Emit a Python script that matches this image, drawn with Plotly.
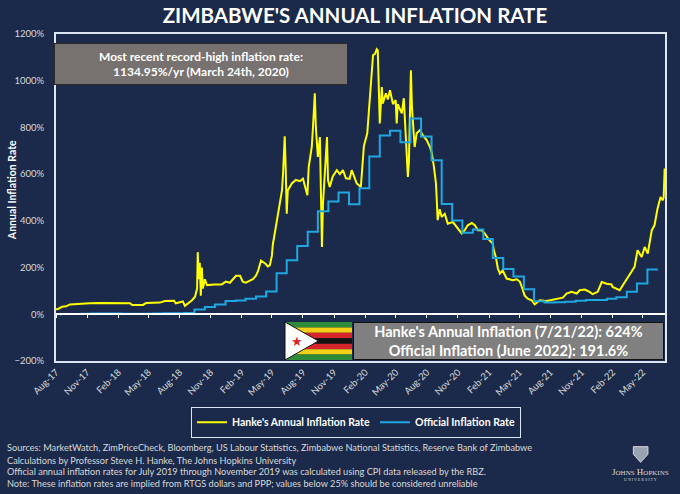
import plotly.graph_objects as go
import pandas as pd

# Hanke's annual inflation rate (%)
hanke_dates = [
    "2017-08-01", "2017-08-07", "2017-08-19", "2017-08-31", "2017-09-11", "2017-09-26",
    "2017-10-11", "2017-11-09", "2017-12-09", "2018-01-08", "2018-02-06", "2018-03-08",
    "2018-03-14", "2018-04-15", "2018-04-24", "2018-06-04", "2018-06-19", "2018-07-16",
    "2018-07-21", "2018-08-02", "2018-08-11", "2018-08-17", "2018-08-26", "2018-09-07",
    "2018-09-16", "2018-09-22", "2018-09-24", "2018-09-27", "2018-09-30", "2018-10-03",
    "2018-10-06", "2018-10-09", "2018-10-15", "2018-10-21", "2018-11-14", "2018-12-04",
    "2018-12-16", "2018-12-28", "2019-01-06", "2019-01-15", "2019-01-27", "2019-02-04",
    "2019-02-13", "2019-02-22", "2019-03-06", "2019-03-15", "2019-03-21", "2019-03-30",
    "2019-04-04", "2019-04-13", "2019-04-19", "2019-04-25", "2019-05-01", "2019-05-04",
    "2019-05-10", "2019-05-16", "2019-05-25", "2019-05-31", "2019-06-03", "2019-06-08",
    "2019-06-11", "2019-06-14", "2019-06-17", "2019-06-29", "2019-07-11", "2019-07-23",
    "2019-08-01", "2019-08-10", "2019-08-14", "2019-08-18", "2019-08-27", "2019-08-30",
    "2019-09-05", "2019-09-08", "2019-09-14", "2019-09-20", "2019-09-23", "2019-09-26",
    "2019-09-29", "2019-10-05", "2019-10-11", "2019-10-14", "2019-10-19", "2019-10-28",
    "2019-11-09", "2019-11-18", "2019-11-27", "2019-12-06", "2019-12-17", "2019-12-23",
    "2020-01-01", "2020-01-07", "2020-01-19", "2020-01-22", "2020-01-28", "2020-02-07",
    "2020-02-13", "2020-02-21", "2020-02-24", "2020-03-01", "2020-03-06", "2020-03-09",
    "2020-03-15", "2020-03-21", "2020-03-24", "2020-04-02", "2020-04-08", "2020-04-14",
    "2020-04-23", "2020-05-01", "2020-05-04", "2020-05-07", "2020-05-13", "2020-05-19",
    "2020-05-25", "2020-05-31", "2020-06-03", "2020-06-06", "2020-06-09", "2020-06-15",
    "2020-06-18", "2020-06-21", "2020-06-26", "2020-07-02", "2020-07-11", "2020-07-20",
    "2020-08-01", "2020-08-10", "2020-08-16", "2020-08-22", "2020-08-28", "2020-08-30",
    "2020-09-02", "2020-09-08", "2020-09-14", "2020-09-23", "2020-10-02", "2020-10-17",
    "2020-10-31", "2020-11-12", "2020-11-21", "2020-11-30", "2020-12-12", "2020-12-21",
    "2020-12-30", "2021-01-10", "2021-01-19", "2021-01-28", "2021-02-03", "2021-02-12",
    "2021-02-15", "2021-02-21", "2021-02-27", "2021-03-05", "2021-03-13", "2021-03-25",
    "2021-04-03", "2021-04-12", "2021-04-24", "2021-05-03", "2021-05-09", "2021-05-17",
    "2021-05-26", "2021-06-07", "2021-06-16", "2021-06-22", "2021-07-01", "2021-07-21",
    "2021-08-08", "2021-08-29", "2021-09-07", "2021-09-18", "2021-10-03", "2021-10-18",
    "2021-10-27", "2021-11-11", "2021-11-25", "2021-12-04", "2021-12-19", "2021-12-31",
    "2022-01-15", "2022-01-29", "2022-02-01", "2022-02-22", "2022-03-03", "2022-03-15",
    "2022-03-24", "2022-04-07", "2022-04-16", "2022-04-28", "2022-05-07", "2022-05-16",
    "2022-05-28", "2022-06-05", "2022-06-14", "2022-06-23", "2022-06-29", "2022-07-02",
    "2022-07-05",
]
hanke_values = [
    22, 23, 32, 34, 42, 44,
    45, 47, 48, 48, 48, 47,
    40, 40, 48, 50, 57, 58,
    47, 52, 55, 36, 45, 60,
    75, 110, 266, 150, 220, 80,
    200, 110, 150, 125, 128, 128,
    140, 135, 150, 165, 165, 140,
    135, 140, 150, 165, 185, 230,
    225, 215, 205, 210, 250, 300,
    350, 403, 488, 531, 600, 762,
    620, 431, 530, 560, 575, 570,
    580, 530, 510, 631, 717, 788,
    946, 800, 674, 759, 430, 288,
    470, 620, 759, 574, 545, 590,
    617, 600, 617, 582, 580, 617,
    580, 560, 545, 600, 720, 775,
    888, 1016, 1109, 1115, 1135, 1130,
    817, 973, 903, 946, 920, 959,
    900, 917, 817, 900, 880, 860,
    925, 745, 700, 588, 650, 1045,
    888, 831, 716, 775, 788, 767,
    745, 717, 689, 631, 560, 502,
    403, 450, 417, 430, 388, 395,
    367, 346, 360, 381, 391, 381,
    360, 360, 346, 324, 315, 303,
    274, 245, 196, 174, 188, 153,
    150, 146, 150, 140, 117, 81,
    67, 60, 43, 50, 60, 57,
    63, 67, 71, 89, 96, 89,
    103, 106, 96, 86, 96, 138,
    131, 128, 117, 103, 124, 146,
    167, 203, 274, 245, 288, 260,
    360, 381, 453, 502, 488, 500,
    624,
]

# Official monthly inflation (%), each month drawn from mid previous month
official_months = [
    "2017-08", "2017-09", "2017-10", "2017-11", "2017-12",
    "2018-01", "2018-02", "2018-03", "2018-04", "2018-05", "2018-06",
    "2018-07", "2018-08", "2018-09", "2018-10", "2018-11", "2018-12",
    "2019-01", "2019-02", "2019-03", "2019-04", "2019-05", "2019-06",
    "2019-07", "2019-08", "2019-09", "2019-10", "2019-11", "2019-12",
    "2020-01", "2020-02", "2020-03", "2020-04", "2020-05", "2020-06",
    "2020-07", "2020-08", "2020-09", "2020-10", "2020-11", "2020-12",
    "2021-01", "2021-02", "2021-03", "2021-04", "2021-05", "2021-06",
    "2021-07", "2021-08", "2021-09", "2021-10", "2021-11", "2021-12",
    "2022-01", "2022-02", "2022-03", "2022-04", "2022-05", "2022-06",
]
official_values = [
    0.1, 0.8, 1.3, 2.3, 3.5,
    3.5, 3.0, 2.7, 2.7, 2.7, 2.9,
    4.3, 4.8, 5.4, 20.9, 31.0, 42.1,
    56.9, 59.4, 66.8, 75.9, 97.9, 175.7,
    231, 292, 353, 441, 483, 521,
    471, 540, 676, 765, 786, 737,
    838, 761, 659, 472, 402, 349,
    363, 322, 241, 194, 162, 107,
    56, 50, 52, 54, 58, 61,
    61, 66, 73, 96, 132, 191.6,
]

title_text = "ZIMBABWE'S ANNUAL INFLATION RATE"
footnotes = [
    "Sources: MarketWatch, ZimPriceCheck, Bloomberg, US Labour Statistics, Zimbabwe National Statistics, Reserve Bank of Zimbabwe",
    "Calculations by Professor Steve H. Hanke, The Johns Hopkins University",
    "Official annual inflation rates for July 2019 through November 2019 was calculated using CPI data released by the RBZ.",
    "Note: These inflation rates are implied from RTGS dollars and PPP; values below 25% should be considered unreliable",
]

navy = "#1b2a4a"
frame = "#dce6f2"
font_family = "Lato, 'Open Sans', sans-serif"

# step start = 15th of the previous month, hold last value to mid-month
step_x = list(pd.to_datetime(official_months) - pd.DateOffset(days=17))
step_x.append(pd.to_datetime(official_months[-1]) + pd.DateOffset(days=14))
step_y = official_values + [official_values[-1]]

fig = go.Figure()
fig.add_trace(go.Scatter(x=hanke_dates, y=hanke_values, mode="lines",
                         name="Hanke's Annual Inflation Rate",
                         line=dict(color="#ffff00", width=2)))
fig.add_trace(go.Scatter(x=step_x, y=step_y, mode="lines", xaxis="x2",
                         name="Official Inflation Rate",
                         line=dict(color="#1ea7e1", width=2, shape="hv")))

x_range = ["2017-08-01", "2022-07-06"]
zero_pos = 200 / 1400

fig.update_layout(
    width=680, height=494,
    margin=dict(l=56, r=15, t=34, b=133),
    paper_bgcolor=navy, plot_bgcolor=navy,
    font=dict(family=font_family, color="#d9d9d9", size=10),
    title=dict(text=title_text, x=0.522, xanchor="center", y=0.967, yanchor="middle",
               font=dict(size=20.5, color="white", weight="bold", family=font_family)),
    xaxis=dict(type="date", range=x_range, tick0="2017-08-01", dtick="M3",
               tickformat="%b-%y", tickangle=-45, showgrid=False, zeroline=False,
               showline=True, linecolor=frame, linewidth=2, mirror=True,
               ticks="", automargin=False, tickfont=dict(size=9.5, color="#d9d9d9")),
    xaxis2=dict(type="date", matches="x", overlaying="x", anchor="free",
                position=zero_pos, tick0="2017-08-01", dtick="M3",
                showticklabels=False, showgrid=False, zeroline=False,
                showline=True, linecolor="white", linewidth=2, automargin=False,
                ticks="outside", ticklen=3, tickcolor="white", tickwidth=1),
    yaxis=dict(range=[-200, 1200], dtick=200, ticksuffix="%", showgrid=False,
               zeroline=False, showline=True, linecolor=frame, linewidth=2,
               mirror=True, ticks="", ticklabelstandoff=8, automargin=False,
               tickfont=dict(size=9.5, color="#d9d9d9")),
    legend=dict(orientation="h", x=0.4926, y=-0.187, xanchor="center", yanchor="middle",
                bgcolor=navy, bordercolor=frame, borderwidth=1, itemwidth=30,
                font=dict(size=10.5, color="white", weight="bold"),
                tracegroupgap=0),
    showlegend=True,
)

# y axis title, placed by hand so it sits where the reference has it
fig.add_annotation(xref="paper", yref="paper", x=-0.072, y=0.523,
                   xanchor="center", yanchor="middle", textangle=-90,
                   text="<b>Annual Inflation Rate</b>", showarrow=False,
                   font=dict(size=10.5, color="white", family=font_family))

# record-high note
fig.add_annotation(xref="paper", yref="paper", x=0.238, y=0.908,
                   xanchor="center", yanchor="middle",
                   text="<b>Most recent record-high inflation rate:<br>1134.95%/yr (March 24th, 2020)</b>",
                   showarrow=False, align="center", width=292, height=40,
                   bgcolor="#77726f", bordercolor="#2b2b2b", borderwidth=1, borderpad=0,
                   font=dict(size=12, color="white", family=font_family))

# latest values box
fig.add_annotation(xref="paper", yref="paper", x=0.7425, y=0.061,
                   xanchor="center", yanchor="middle",
                   text="<b>Hanke's Annual Inflation (7/21/22): 624%<br>Official Inflation (June 2022): 191.6%</b>",
                   showarrow=False, align="center", width=309, height=36,
                   bgcolor="#808080", bordercolor="#111111", borderwidth=1, borderpad=0,
                   font=dict(size=14.5, color="white", family=font_family))

# flag of Zimbabwe next to the box
fx0, fx1 = (285 - 56) / 609, (352 - 56) / 609
fy0, fy1 = (361 - 360) / 327, (361 - 322) / 327
stripe_colors = ["#2e8b3a", "#f4d116", "#d4262b", "#111111", "#d4262b", "#f4d116", "#2e8b3a"]
h = (fy1 - fy0) / len(stripe_colors)
for i, c in enumerate(stripe_colors):
    fig.add_shape(type="rect", xref="paper", yref="paper", layer="above",
                  x0=fx0, x1=fx1, y0=fy1 - (i + 1) * h, y1=fy1 - i * h,
                  fillcolor=c, line=dict(width=0))
tri_x = fx0 + (fx1 - fx0) * 0.5
fig.add_shape(type="path", xref="paper", yref="paper", layer="above",
              path=f"M {fx0} {fy0} L {fx0} {fy1} L {tri_x} {(fy0 + fy1) / 2} Z",
              fillcolor="white", line=dict(color="#111111", width=1))
fig.add_annotation(xref="paper", yref="paper", x=fx0 + (tri_x - fx0) * 0.35,
                   y=(fy0 + fy1) / 2, xanchor="center", yanchor="middle",
                   text="★", showarrow=False,
                   font=dict(size=13, color="#d4262b"))

# footnotes
foot_y = [-0.265, -0.303, -0.339, -0.375]
for t, yy in zip(footnotes, foot_y):
    fig.add_annotation(xref="paper", yref="paper", x=-0.083, y=yy, xanchor="left",
                       yanchor="middle", text=t, showarrow=False, align="left",
                       font=dict(size=9.2, color="#d9d9d9", family=font_family))

# Johns Hopkins mark
fig.add_annotation(xref="paper", yref="paper", x=0.96, y=-0.338, xanchor="center",
                   yanchor="middle", showarrow=False,
                   text="J<span style='font-size:7px'>OHNS</span> H<span style='font-size:7px'>OPKINS</span>",
                   font=dict(size=9, color="#d9d9d9", family="'Liberation Serif', serif"))
fig.add_annotation(xref="paper", yref="paper", x=0.96, y=-0.362, xanchor="center",
                   yanchor="middle", showarrow=False,
                   text="U N I V E R S I T Y",
                   font=dict(size=4, color="#d9d9d9", family="'Liberation Serif', serif"))
fig.add_shape(type="path", xref="paper", yref="paper",
              path="M 0.948 -0.262 L 0.972 -0.262 L 0.972 -0.285 Q 0.96 -0.31 0.96 -0.31 Q 0.948 -0.285 0.948 -0.285 Z",
              fillcolor="#9aa3b3", line=dict(color="#d9d9d9", width=1))

# drop the page's default body margin so the figure sits at the window corner
fig.write_html("out.html", config={"displayModeBar": False},
               post_script="document.body.style.margin='0';document.body.style.background='#1b2a4a';")
